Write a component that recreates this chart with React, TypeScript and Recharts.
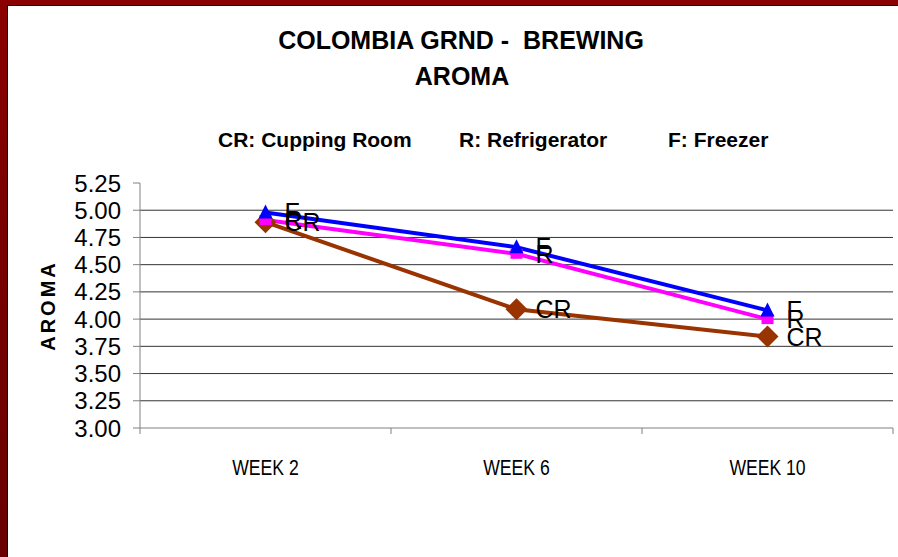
import { LineChart, Line, XAxis, YAxis, ReferenceLine, LabelList } from "recharts";

const weeks = ["WEEK 2", "WEEK 6", "WEEK 10"];
const freezer = [4.98, 4.66, 4.08];
const refrigerator = [4.91, 4.6, 4.0];
const cuppingRoom = [4.89, 4.09, 3.84];
const yTicks = [3, 3.25, 3.5, 3.75, 4, 4.25, 4.5, 4.75, 5, 5.25];
const gridValues = yTicks.filter((v) => v > 3 && v < 5.25);
const xTicks = [0, 0.5, 1, 1.5, 2, 2.5, 3];

const data = weeks.map((week, i) => ({
  pos: i + 0.5,
  week,
  F: freezer[i],
  R: refrigerator[i],
  CR: cuppingRoom[i],
}));

const ARIAL = "'Liberation Sans', Arial, sans-serif";

// category labels sit between the boundary ticks, like the old excel look
const XTick = (props: any) => {
  const { x, y, payload } = props;
  const v = payload.value;
  if (Number.isInteger(v)) {
    return <line x1={x} x2={x} y1={y} y2={y + 6} stroke="#808080" />;
  }
  return (
    <text
      transform={`translate(${x},${y + 47}) scale(0.8,1)`}
      textAnchor="middle"
      fontSize={22}
      fontFamily={ARIAL}
      fill="#000"
    >
      {weeks[Math.floor(v)]}
    </text>
  );
};

const Triangle = (props: any) => {
  const { cx, cy } = props;
  if (cx == null || cy == null) return null;
  return <path d={`M${cx},${cy - 8} L${cx + 7},${cy + 6} L${cx - 7},${cy + 6} Z`} fill="#0000ff" />;
};

const Square = (props: any) => {
  const { cx, cy } = props;
  if (cx == null || cy == null) return null;
  return <rect x={cx - 6} y={cy - 5} width={12} height={10} fill="#ff00ff" />;
};

const Diamond = (props: any) => {
  const { cx, cy } = props;
  if (cx == null || cy == null) return null;
  return <path d={`M${cx},${cy - 11} L${cx + 11},${cy} L${cx},${cy + 11} L${cx - 11},${cy} Z`} fill="#993300" />;
};

const pointLabel = (name: string) => (props: any) => {
  const { x, y } = props;
  return (
    <text x={x + 19} y={y + 9} fontSize={25} fontFamily={ARIAL} fill="#000">
      {name}
    </text>
  );
};

const AxisTitle = (props: any) => {
  const { viewBox } = props;
  const cx = 55;
  const cy = viewBox.y + viewBox.height / 2;
  return (
    <text
      x={cx}
      y={cy}
      transform={`rotate(-90, ${cx}, ${cy})`}
      textAnchor="middle"
      fontSize={20}
      fontWeight="bold"
      letterSpacing={3}
      fontFamily={ARIAL}
      fill="#000"
    >
      AROMA
    </text>
  );
};

export default function App() {
  return (
    <div style={{ position: "absolute", left: 0, top: 0, width: 898, height: 557, overflow: "hidden" }}>
      <div
        style={{
          position: "absolute",
          inset: 0,
          background: "linear-gradient(to bottom, #8b0000 0%, #7a0000 40%, #6a0000 100%)",
        }}
      />
      <div
        style={{
          position: "absolute",
          left: 7,
          top: 5,
          right: 0,
          bottom: 0,
          background: "#fff",
          borderLeft: "1px solid #000",
          borderTop: "1px solid #000",
        }}
      />
      <div
        style={{
          position: "absolute",
          left: 0,
          top: 0,
          width: 898,
          fontFamily: ARIAL,
          fontWeight: "bold",
          color: "#000",
        }}
      >
        <div style={{ position: "absolute", left: 0, width: 922, top: 26, textAlign: "center", fontSize: 25, lineHeight: "28px", whiteSpace: "pre" }}>
          {"COLOMBIA GRND -  BREWING"}
        </div>
        <div style={{ position: "absolute", left: 0, width: 924, top: 62, textAlign: "center", fontSize: 25, lineHeight: "28px" }}>
          AROMA
        </div>
        <div style={{ position: "absolute", left: 218, top: 128, fontSize: 21, lineHeight: "24px", whiteSpace: "pre" }}>CR: Cupping Room</div>
        <div style={{ position: "absolute", left: 459, top: 128, fontSize: 21, lineHeight: "24px", whiteSpace: "pre" }}>R: Refrigerator</div>
        <div style={{ position: "absolute", left: 668, top: 128, fontSize: 21, lineHeight: "24px", whiteSpace: "pre" }}>F: Freezer</div>
      </div>
      <div style={{ position: "absolute", left: 0, top: 0 }}>
        <LineChart width={898} height={557} data={data} margin={{ top: 183, right: 5, left: 0, bottom: 0 }}>
          {gridValues.map((v) => (
            <ReferenceLine key={v} y={v} stroke="#333" strokeWidth={1} />
          ))}
          <XAxis
            type="number"
            dataKey="pos"
            domain={[0, 3]}
            ticks={xTicks}
            interval={0}
            height={129}
            tickSize={0}
            tickMargin={0}
            tickLine={false}
            axisLine={{ stroke: "#808080" }}
            tick={<XTick />}
          />
          <YAxis
            type="number"
            domain={[3, 5.25]}
            ticks={yTicks}
            interval={0}
            width={140}
            tickSize={7}
            tickMargin={12}
            axisLine={{ stroke: "#808080" }}
            tickLine={{ stroke: "#808080" }}
            tick={{ fill: "#000", fontSize: 24, fontFamily: ARIAL }}
            tickFormatter={(v: number) => v.toFixed(2)}
            label={<AxisTitle />}
          />
          <Line type="linear" dataKey="CR" stroke="#993300" strokeWidth={4} dot={<Diamond />} activeDot={false} isAnimationActive={false}>
            <LabelList dataKey="CR" content={pointLabel("CR")} />
          </Line>
          <Line type="linear" dataKey="R" stroke="#ff00ff" strokeWidth={4} dot={<Square />} activeDot={false} isAnimationActive={false}>
            <LabelList dataKey="R" content={pointLabel("R")} />
          </Line>
          <Line type="linear" dataKey="F" stroke="#0000ff" strokeWidth={4} dot={<Triangle />} activeDot={false} isAnimationActive={false}>
            <LabelList dataKey="F" content={pointLabel("F")} />
          </Line>
        </LineChart>
      </div>
    </div>
  );
}
